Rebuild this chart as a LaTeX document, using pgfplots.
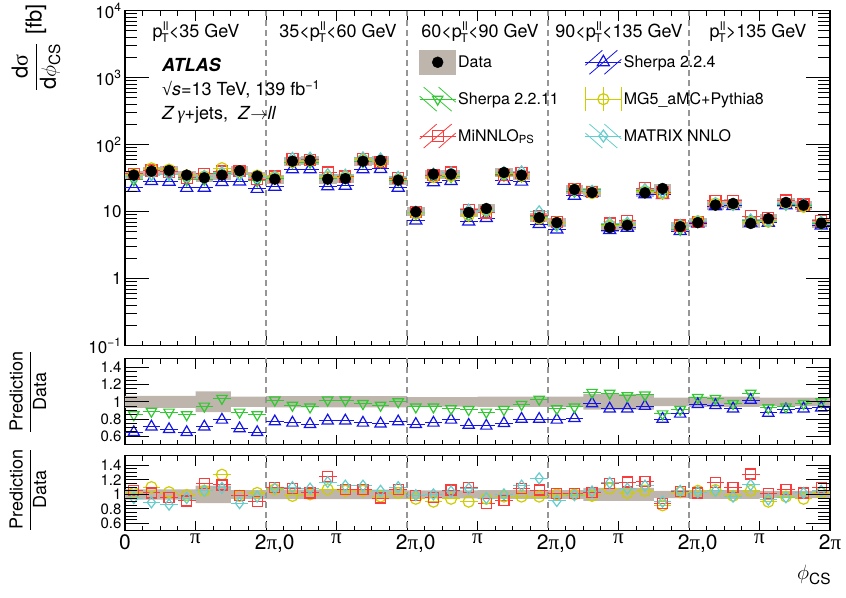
\documentclass[border=0pt]{standalone}
\usepackage{fontspec}
\setmainfont{TeX Gyre Heros}
\newfontfamily\sym{Liberation Serif}
\usepackage{pgfplots}
\pgfplotsset{compat=1.18}
\usepackage{pgfplotstable}
\usepgfplotslibrary{fillbetween}

\definecolor{bandg}{RGB}{190,182,172}
\definecolor{cgreen}{RGB}{50,200,50}
\definecolor{cblue}{RGB}{20,20,230}
\definecolor{cred}{RGB}{250,60,60}
\definecolor{cyel}{RGB}{205,205,0}
\definecolor{ccyan}{RGB}{100,205,205}
\definecolor{dashg}{RGB}{150,150,150}

\newcommand{\PI}{{\sym π}}
\newcommand{\ptll}{p\kern0.5pt\raisebox{7pt}{\fontsize{12}{12}\selectfont ll}\kern-7pt\raisebox{-5pt}{\fontsize{12}{12}\selectfont T}}

\pgfplotstableread{
x data s11 s24 mn mg mx
0.0625 35.3 0.85 0.645 1.05 1.02 0.95
0.1875 40.5 0.89 0.71 1.02 1.10 0.89
0.3125 41.4 0.88 0.68 0.96 1.03 0.86
0.4375 35.3 0.85 0.645 0.91 0.99 0.95
0.5625 32.2 0.95 0.71 1.15 1.05 1.05
0.6875 35.3 1.04 0.79 1.13 1.27 1.09
0.8125 41.0 0.88 0.69 0.99 0.98 0.88
0.9375 34.1 0.85 0.645 0.90 1.02 0.97
1.0625 30.8 1.02 0.77 1.09 1.07 1.08
1.1875 57.0 0.96 0.755 1.08 0.98 1.10
1.3125 58.5 0.94 0.74 1.02 1.00 1.08
1.4375 30.8 1.02 0.78 1.25 1.07 1.17
1.5625 31.4 1.02 0.78 1.07 1.05 1.12
1.6875 57.0 0.98 0.755 1.07 1.05 1.12
1.8125 58.5 0.96 0.745 0.95 0.97 1.05
1.9375 29.7 1.00 0.77 1.07 1.02 1.10
2.0625 10.0 0.94 0.74 0.99 0.94 0.99
2.1875 36.5 0.94 0.755 0.96 0.90 1.00
2.3125 36.5 0.92 0.79 1.06 0.94 1.04
2.4375 9.8 0.91 0.73 1.10 0.90 1.08
2.5625 11.2 0.88 0.72 0.87 0.94 0.95
2.6875 38.6 0.91 0.75 0.92 0.97 1.00
2.8125 35.3 0.97 0.80 1.08 0.97 1.12
2.9375 8.2 1.03 0.80 1.06 0.97 1.22
3.0625 6.9 0.92 0.79 1.01 1.00 0.91
3.1875 21.5 0.94 0.81 1.01 1.00 0.99
3.3125 19.4 1.11 0.98 1.03 0.98 1.04
3.4375 5.8 1.10 0.92 1.15 1.08 1.16
3.5625 6.3 1.07 0.92 1.17 1.02 1.08
3.6875 19.2 1.08 0.95 1.18 1.05 1.12
3.8125 22.3 0.86 0.80 0.87 0.85 0.90
3.9375 6.0 0.91 0.86 1.04 1.03 1.05
4.0625 6.9 1.05 0.97 1.02 1.05 1.03
4.1875 12.6 1.04 0.96 1.16 1.06 1.05
4.3125 13.3 0.98 0.92 1.10 0.98 0.97
4.4375 6.7 1.10 1.02 1.28 1.05 1.13
4.5625 7.9 0.93 0.87 1.01 0.90 0.93
4.6875 13.8 0.94 0.91 1.07 0.97 0.96
4.8125 12.6 0.98 0.92 1.02 0.94 1.02
4.9375 6.7 1.00 0.93 1.10 1.02 1.05
}\main

\pgfplotstableread{
xe e
0.000 0.07
0.125 0.07
0.250 0.07
0.375 0.07
0.500 0.12
0.625 0.12
0.750 0.06
0.875 0.06
1.000 0.065
1.125 0.065
1.250 0.065
1.375 0.065
1.500 0.065
1.625 0.065
1.750 0.065
1.875 0.065
2.000 0.055
2.125 0.055
2.250 0.055
2.375 0.055
2.500 0.06
2.625 0.06
2.750 0.06
2.875 0.06
3.000 0.06
3.125 0.06
3.250 0.09
3.375 0.09
3.500 0.09
3.625 0.09
3.750 0.05
3.875 0.05
4.000 0.06
4.125 0.06
4.250 0.06
4.375 0.06
4.500 0.05
4.625 0.05
4.750 0.05
4.875 0.05
5.000 0.05
}\edges

\pgfplotsset{
  panel/.style={scale only axis, width=705pt, xmin=0, xmax=5,
    axis line style={line width=1.2pt}, tick style={line width=1pt, black},
    tick align=inside, /pgf/number format/assume math mode=true},
  xpart/.style={panel, xtick={0,0.5,1,1.5,2,2.5,3,3.5,4,4.5,5}, minor x tick num=3,
    major tick length=10pt, minor tick length=5pt, ytick=\empty, yminorticks=false},
  ypart/.style={panel, xtick=\empty, xminorticks=false, axis line style={draw=none},
    major tick length=24pt, minor tick length=12pt},
  hbar/.style={error bars/.cd, x dir=both, x fixed=0.0625, error mark=none,
    error bar style={line width=1pt}},
}

\begin{document}
\begin{tikzpicture}[x=1pt,y=1pt]
\path (0,0) rectangle (846,595);

% ---------------- main panel -----------------
\begin{axis}[xpart, at={(125pt,252pt)}, anchor=south west, height=335pt,
  ymode=log, ymin=0.1, ymax=10000, xticklabels={},
  legend columns=2, legend cell align=left,
  legend style={at={(0.417,0.884)}, anchor=north west, draw=none, fill=none,
    font=\fontsize{16}{19}\selectfont, row sep=12pt, inner sep=0pt,
    /tikz/column 2/.style={column sep=24pt}}]
\pgfplotsinvokeforeach{1,2,3,4}{
  \addplot[dashg, dash pattern=on 6pt off 4pt, line width=2pt, forget plot] coordinates {(#1,0.1) (#1,10000)};}
\addplot[only marks, mark=none, forget plot, error bars/.cd, x dir=both, x fixed=0.0625,
  error mark=none, error bar style={bandg, line width=9pt}] table[x=x, y=data] {\main};
\addplot[cblue, only marks, mark=triangle, mark size=7pt, mark options={line width=1.2pt}, forget plot, hbar]
  table[x=x, y expr=\thisrow{data}*\thisrow{s24}] {\main};
\addplot[cgreen, only marks, mark=triangle, mark size=6pt, mark options={rotate=180, line width=1.2pt}, forget plot, hbar]
  table[x=x, y expr=\thisrow{data}*\thisrow{s11}] {\main};
\addplot[cred, only marks, mark=square, mark size=5.5pt, mark options={line width=1.2pt}, forget plot, hbar]
  table[x=x, y expr=\thisrow{data}*\thisrow{mn}] {\main};
\addplot[cyel, only marks, mark=o, mark size=5.5pt, mark options={line width=1.2pt}, forget plot, hbar]
  table[x=x, y expr=\thisrow{data}*\thisrow{mg}] {\main};
\addplot[ccyan, only marks, mark=diamond, mark size=6pt, mark options={line width=1.2pt}, forget plot, hbar]
  table[x=x, y expr=\thisrow{data}*\thisrow{mx}] {\main};
\addplot[black, only marks, mark=*, mark size=5.5pt, forget plot] table[x=x, y=data] {\main};

\addlegendimage{legend image code/.code={
  \fill[bandg] (0pt,-12pt) rectangle (36pt,12pt);
  \fill[black] (18pt,0pt) circle (5.5pt);}}
\addlegendentry{Data}
\addlegendimage{legend image code/.code={
  \draw[cblue, line width=0.8pt] (0pt,-3pt) -- (17pt,12pt) (4pt,-12pt) -- (32pt,12pt) (19pt,-12pt) -- (36pt,3pt);
  \draw[cblue, line width=1pt] (0pt,0pt) -- (36pt,0pt);
  \begin{scope}[shift={(18pt,0pt)}, cblue, line width=1.2pt]\pgfsetplotmarksize{7pt}\pgfuseplotmark{triangle}\end{scope}}}
\addlegendentry{Sherpa 2.2.4}
\addlegendimage{legend image code/.code={
  \draw[cgreen, line width=0.8pt] (0pt,3pt) -- (17pt,-12pt) (4pt,12pt) -- (32pt,-12pt) (19pt,12pt) -- (36pt,-3pt);
  \draw[cgreen, line width=1pt] (0pt,0pt) -- (36pt,0pt);
  \begin{scope}[shift={(18pt,0pt)}, rotate=180, cgreen, line width=1.2pt]\pgfsetplotmarksize{6pt}\pgfuseplotmark{triangle}\end{scope}}}
\addlegendentry{Sherpa 2.2.11}
\addlegendimage{legend image code/.code={
  \draw[cyel, line width=1pt] (0pt,-12pt) -- (0pt,12pt) (36pt,-12pt) -- (36pt,12pt) (18pt,-12pt) -- (18pt,12pt) (0pt,0pt) -- (36pt,0pt);
  \begin{scope}[shift={(18pt,0pt)}, cyel, line width=1.2pt]\pgfsetplotmarksize{5.5pt}\pgfuseplotmark{o}\end{scope}}}
\addlegendentry{MG5\_aMC+Pythia8}
\addlegendimage{legend image code/.code={
  \draw[cred, line width=0.8pt] (0pt,-3pt) -- (17pt,12pt) (4pt,-12pt) -- (32pt,12pt) (19pt,-12pt) -- (36pt,3pt);
  \draw[cred, line width=1pt] (0pt,0pt) -- (36pt,0pt);
  \begin{scope}[shift={(18pt,0pt)}, cred, line width=1.2pt]\pgfsetplotmarksize{5.5pt}\pgfuseplotmark{square}\end{scope}}}
\addlegendentry{MiNNLO\textsubscript{PS}}
\addlegendimage{legend image code/.code={
  \draw[ccyan, line width=0.8pt] (0pt,3pt) -- (17pt,-12pt) (4pt,12pt) -- (32pt,-12pt) (19pt,12pt) -- (36pt,-3pt);
  \draw[ccyan, line width=1pt] (0pt,0pt) -- (36pt,0pt);
  \begin{scope}[shift={(18pt,0pt)}, ccyan, line width=1.2pt]\pgfsetplotmarksize{6pt}\pgfuseplotmark{diamond}\end{scope}}}
\addlegendentry{MATRIX NNLO}
\end{axis}
\begin{axis}[ypart, at={(125pt,252pt)}, anchor=south west, height=335pt,
  ymode=log, ymin=0.1, ymax=10000, ytick={0.1,1,10,100,1000,10000},
  yticklabels={10\textsuperscript{\textminus1},1,10,10\textsuperscript{2},10\textsuperscript{3},10\textsuperscript{4}},
  yticklabel style={font=\fontsize{17}{17}\selectfont}]
\addplot[draw=none, forget plot] coordinates {(0,1) (5,1)};
\end{axis}

% ---------------- ratio 1 -----------------
\begin{axis}[xpart, at={(125pt,153pt)}, anchor=south west, height=86pt,
  ymin=0.5, ymax=1.5, xticklabels={}]
\addplot[name path=bup, draw=none, const plot, forget plot] table[x=xe, y expr=1+\thisrow{e}] {\edges};
\addplot[name path=blo, draw=none, const plot, forget plot] table[x=xe, y expr=1-\thisrow{e}] {\edges};
\addplot[bandg, forget plot] fill between[of=bup and blo];
\pgfplotsinvokeforeach{1,2,3,4}{
  \addplot[dashg, dash pattern=on 6pt off 4pt, line width=2pt, forget plot] coordinates {(#1,0.4) (#1,1.6)};}
\addplot[cblue, only marks, mark=triangle, mark size=6.5pt, mark options={line width=1.2pt}, hbar]
  table[x=x, y=s24] {\main};
\addplot[cgreen, only marks, mark=triangle, mark size=6pt, mark options={rotate=180, line width=1.2pt}, hbar]
  table[x=x, y=s11] {\main};
\end{axis}
\begin{axis}[ypart, at={(125pt,153pt)}, anchor=south west, height=86pt,
  ymin=0.5, ymax=1.5, ytick={0.6,0.8,1,1.2,1.4}, yticklabels={0.6,0.8,1,1.2,1.4},
  minor y tick num=3, yticklabel style={font=\fontsize{15}{15}\selectfont}]
\addplot[draw=none, forget plot] coordinates {(0,1) (5,1)};
\end{axis}

% ---------------- ratio 2 -----------------
\begin{axis}[xpart, at={(125pt,67pt)}, anchor=south west, height=75pt,
  ymin=0.5, ymax=1.53,
  xticklabels={0,\PI,2\PI\rlap{,0},\PI,2\PI\rlap{,0},\PI,2\PI\rlap{,0},\PI,2\PI\rlap{,0},\PI,2\PI},
  xticklabel style={font=\fontsize{21}{21}\selectfont}]
\addplot[name path=bup, draw=none, const plot, forget plot] table[x=xe, y expr=1+\thisrow{e}] {\edges};
\addplot[name path=blo, draw=none, const plot, forget plot] table[x=xe, y expr=1-\thisrow{e}] {\edges};
\addplot[bandg, forget plot] fill between[of=bup and blo];
\pgfplotsinvokeforeach{1,2,3,4}{
  \addplot[dashg, dash pattern=on 6pt off 4pt, line width=2pt, forget plot] coordinates {(#1,0.4) (#1,1.6)};}
\addplot[cyel, only marks, mark=o, mark size=5.5pt, mark options={line width=1.2pt}, hbar]
  table[x=x, y=mg] {\main};
\addplot[cred, only marks, mark=square, mark size=5pt, mark options={line width=1.2pt}, hbar]
  table[x=x, y=mn] {\main};
\addplot[ccyan, only marks, mark=diamond, mark size=5.5pt, mark options={line width=1.2pt}, hbar]
  table[x=x, y=mx] {\main};
\end{axis}
\begin{axis}[ypart, at={(125pt,67pt)}, anchor=south west, height=75pt,
  ymin=0.5, ymax=1.53, ytick={0.6,0.8,1,1.2,1.4}, yticklabels={0.6,0.8,1,1.2,1.4},
  minor y tick num=3, yticklabel style={font=\fontsize{15}{15}\selectfont}]
\addplot[draw=none, forget plot] coordinates {(0,1) (5,1)};
\end{axis}

% ---------------- texts -----------------
\begin{scope}[every node/.style={font=\fontsize{18}{20}\selectfont}]
\node[anchor=base] at (196,560) {\ptll<35 GeV};
\node[anchor=base] at (338,560) {35<\ptll<60 GeV};
\node[anchor=base] at (480,560) {60<\ptll<90 GeV};
\node[anchor=base] at (619,560) {90<\ptll<135 GeV};
\node[anchor=base] at (758,560) {\ptll>135 GeV};
\node[anchor=base west, inner sep=0pt] at (162,526) {\textbf{\textit{ATLAS}}};
\node[anchor=base west, inner sep=0pt] at (162,502) {{\sym √}\textit{s}=13 TeV, 139 fb\textsuperscript{\textminus1}};
\node[anchor=base west, inner sep=0pt] at (162,478) {\textit{Z}\,{\sym\itshape γ}+jets,\ \ \textit{Z}$\rightarrow$\textit{ll}};
\end{scope}
\node[rotate=90, anchor=east, inner sep=0pt, font=\fontsize{22}{24}\selectfont] at (36,594)
  {$\displaystyle\frac{\mbox{d{\sym σ}}}{\mbox{d$\phi$\textsubscript{CS}}}$\hspace{8pt}[fb]};
\node[rotate=90, inner sep=0pt, font=\fontsize{18}{20}\selectfont] at (28,206)
  {$\displaystyle\frac{\mbox{Prediction}}{\mbox{Data}}$};
\node[rotate=90, inner sep=0pt, font=\fontsize{18}{20}\selectfont] at (28,108)
  {$\displaystyle\frac{\mbox{Prediction}}{\mbox{Data}}$};
\node[anchor=base west, inner sep=0pt, font=\fontsize{22}{24}\selectfont] at (797,18)
  {$\phi$\textsubscript{CS}};
\end{tikzpicture}
\end{document}
